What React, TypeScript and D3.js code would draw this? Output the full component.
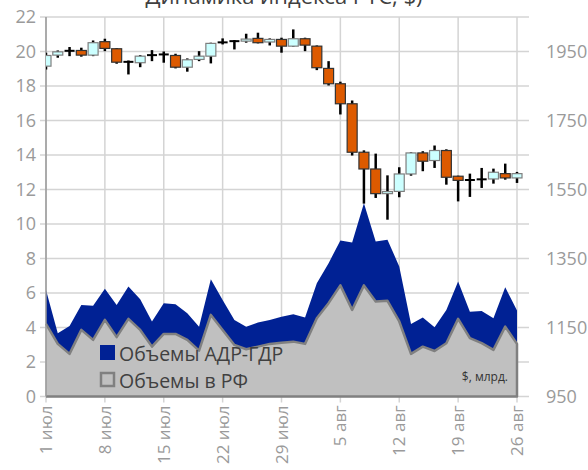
import React from "react";
import * as d3 from "d3";

// Week tick labels (every 5 trading days)
const tickLabels = ["1 июл", "8 июл", "15 июл", "22 июл", "29 июл", "5 авг", "12 авг", "19 авг", "26 авг"];
const leftTicks = [0, 2, 4, 6, 8, 10, 12, 14, 16, 18, 20, 22];
const rightTicks = [950, 1150, 1350, 1550, 1750, 1950];

// RTS index candles (in left-axis units; right axis = 950 + 50*value)
const openV = [19.15, 19.79, 20.04, 20.06, 19.79, 20.57, 20.16, 19.40, 19.35, 19.79, 19.83, 19.77, 19.09, 19.54, 19.73, 20.53, 20.60, 20.60, 20.76, 20.55,
  20.70, 20.31, 20.74, 20.31, 19.02, 18.13, 16.97, 14.16, 13.19, 11.76, 11.89, 12.90, 14.12, 13.68, 14.26, 12.77, 12.55, 12.59, 12.61, 12.92, 12.67];
const closeV = [19.77, 19.98, 20.04, 19.79, 20.51, 20.18, 19.38, 19.40, 19.73, 19.79, 19.83, 19.09, 19.52, 19.73, 20.47, 20.53, 20.60, 20.72, 20.51, 20.70,
  20.31, 20.74, 20.37, 19.06, 18.13, 16.97, 14.16, 13.19, 11.76, 11.88, 12.90, 14.12, 13.64, 14.26, 12.71, 12.53, 12.55, 12.59, 13.00, 12.67, 12.92];
const highV = [19.93, 20.06, 20.26, 20.22, 20.64, 20.74, 20.20, 19.48, 19.79, 20.08, 20.00, 19.87, 19.60, 20.02, 20.51, 20.76, 20.66, 21.03, 21.09, 20.76,
  20.80, 21.28, 20.80, 20.35, 19.44, 18.25, 17.16, 14.27, 14.08, 12.82, 13.29, 14.16, 14.22, 14.55, 14.33, 12.80, 12.92, 13.25, 13.21, 13.50, 13.02];
const lowV = [18.96, 19.64, 19.73, 19.70, 19.73, 20.02, 19.29, 18.67, 19.09, 19.44, 19.35, 19.02, 18.83, 19.44, 19.31, 20.41, 20.12, 20.51, 20.47, 20.35,
  19.93, 20.28, 20.02, 18.92, 18.03, 16.35, 13.97, 11.18, 11.51, 10.25, 11.55, 12.80, 13.06, 13.25, 12.28, 11.31, 11.57, 12.09, 12.34, 12.57, 12.38];

// Trading volumes, $ bn
const volRF = [4.21, 3.05, 2.47, 3.86, 3.28, 4.44, 3.44, 4.50, 3.86, 2.89, 3.63, 3.63, 3.28, 2.66, 4.73, 3.86, 2.99, 2.74, 2.89, 3.05,
  3.12, 3.18, 3.05, 4.54, 5.41, 6.44, 5.02, 6.44, 5.51, 5.55, 4.35, 2.47, 2.89, 2.64, 3.09, 4.50, 3.38, 3.09, 2.70, 4.05, 3.05];
const volADR = [1.97, 0.62, 1.62, 1.45, 1.98, 1.80, 1.87, 1.88, 1.78, 1.46, 1.78, 1.72, 1.55, 1.39, 2.07, 1.74, 1.45, 1.31, 1.40, 1.39,
  1.51, 1.59, 1.53, 2.03, 2.32, 2.61, 3.91, 4.76, 3.48, 3.54, 3.19, 1.74, 1.69, 1.38, 1.93, 2.17, 1.54, 1.87, 1.84, 2.29, 1.93];

const W = 588, H = 470;
const x0 = 46, x1 = 517;
const yTop = 17, yBot = 396.5;
const FONT = "'Open Sans', 'Noto Sans', sans-serif";

export default function App() {
  const n = openV.length;
  const x = d3.scaleLinear().domain([0, n - 1]).range([x0, x1]);
  const y = d3.scaleLinear().domain([0, 22]).range([yBot, yTop]);
  const yR = d3.scaleLinear().domain([950, 2050]).range([yBot, yTop]);

  const idx = d3.range(n);
  const areaTotal = d3.area<number>().x((i) => x(i)).y0(yBot).y1((i) => y(volRF[i] + volADR[i]));
  const areaRF = d3.area<number>().x((i) => x(i)).y0(yBot).y1((i) => y(volRF[i]));
  const lineRF = d3.line<number>().x((i) => x(i)).y((i) => y(volRF[i]));
  const rfOutline =
    (lineRF(idx) as string) + `L${x(n - 1)},${yBot}L${x(0)},${yBot}`;

  const grid = "#d4d4d4";
  const tickGray = "#9a9a9a";
  const bw = 10;

  return (
    <svg width={W} height={H} style={{ position: "absolute", left: 0, top: 0, background: "#fff" }}>
      <defs>
        <clipPath id="plotClip">
          <rect x={x0} y={0} width={W - x0} height={H} />
        </clipPath>
      </defs>
      <text x={284} y={4} textAnchor="middle" fontFamily={FONT} fontSize={22} fill="#404040">
        Динамика индекса РТС, $)
      </text>

      {/* horizontal grid */}
      {leftTicks.map((t) => (
        <line key={"h" + t} x1={x0 - 6} x2={529} y1={y(t)} y2={y(t)} stroke={grid} strokeWidth={1.5} />
      ))}
      {/* vertical grid */}
      {tickLabels.map((_, k) => (
        <line key={"v" + k} x1={x(k * 5)} x2={x(k * 5)} y1={yTop} y2={yBot + 6} stroke={grid} strokeWidth={1.5} />
      ))}

      {/* volume areas */}
      <path d={areaTotal(idx) as string} fill="#002194" />
      <path d={areaRF(idx) as string} fill="#c0c0c0" />
      <path d={rfOutline} fill="none" stroke="#808080" strokeWidth={2.5} strokeLinejoin="round" />
      <line x1={x0} x2={x0} y1={yTop} y2={yBot} stroke="#9a9a9a" strokeWidth={1.5} />

      {/* candles */}
      <g clipPath="url(#plotClip)">
        {idx.map((i) => {
          const o = openV[i], c = closeV[i];
          const up = c >= o;
          const cx = x(i);
          const top = y(Math.max(o, c));
          const bot = y(Math.min(o, c));
          const doji = Math.abs(o - c) < 0.03;
          return (
            <g key={"c" + i}>
              <line x1={cx} x2={cx} y1={yR(950 + 50 * highV[i])} y2={yR(950 + 50 * lowV[i])} stroke="#000" strokeWidth={2.5} />
              {doji ? (
                <line x1={cx - bw / 2} x2={cx + bw / 2} y1={top} y2={top} stroke="#000" strokeWidth={2} />
              ) : (
                <rect x={cx - bw / 2} y={top} width={bw} height={Math.max(bot - top, 1.5)}
                  fill={up ? "#ccffff" : "#dd5a00"} stroke={up ? "#7f7f7f" : "#333"} strokeWidth={1.2} />
              )}
            </g>
          );
        })}
      </g>

      {/* left axis labels */}
      {leftTicks.map((t) => (
        <text key={"l" + t} x={36} y={y(t)} dy="0.35em" textAnchor="end" fontFamily={FONT} fontSize={18} fill={tickGray}>
          {t}
        </text>
      ))}
      {/* right axis labels */}
      {rightTicks.map((t) => (
        <text key={"r" + t} x={546} y={yR(t)} dy="0.35em" textAnchor="start" fontFamily={FONT} fontSize={18} fill={tickGray}>
          {t}
        </text>
      ))}
      {/* x labels */}
      {tickLabels.map((lab, k) => (
        <text key={"x" + k} transform={`translate(${x(k * 5) + 6},${yBot + 9}) rotate(-90)`} textAnchor="end"
          fontFamily={FONT} fontSize={17} fill={tickGray}>
          {lab}
        </text>
      ))}

      {/* legend */}
      <rect x={100} y={345} width={15} height={15} fill="#002194" />
      <text x={119} y={361} fontFamily={FONT} fontSize={19.5} fill="#404040">Объемы АДР-ГДР</text>
      <rect x={101} y={373} width={13} height={13} fill="#c0c0c0" stroke="#808080" strokeWidth={2.5} />
      <text x={119} y={388} fontFamily={FONT} fontSize={19.5} fill="#404040">Объемы в РФ</text>

      <text x={508} y={381} textAnchor="end" fontFamily={FONT} fontSize={12} fill="#333">$, млрд.</text>
    </svg>
  );
}
